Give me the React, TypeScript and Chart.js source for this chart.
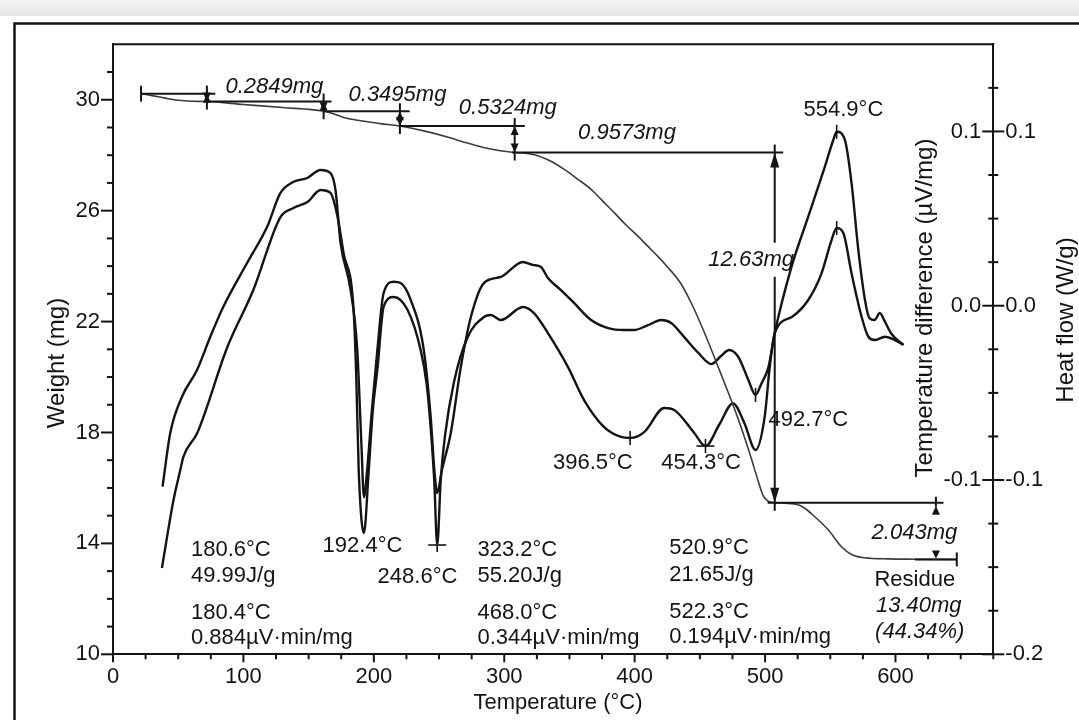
import React, { useEffect, useRef } from 'react';
import { Chart, registerables } from 'chart.js';

Chart.register(...registerables);

const FONT_FAMILY = '"Liberation Sans", Arial, Helvetica, sans-serif';
const INK = '#141414';

// ---------------- data ----------------
// TG curve: temperature (°C) / weight (mg)
const tgTemp = [21.5, 30, 40, 50, 60, 72, 100, 130, 161.5, 170, 177.6, 190, 205, 220, 240, 257, 270, 284, 297, 308, 323, 335, 346, 356, 366.6, 375, 384.5, 393, 402.5, 410, 417.8, 425, 435, 443.4, 453.6, 463.9, 471.6, 479.3, 484.4, 489.5, 494.7, 498.5, 502.3, 507.4, 515, 525.3, 531, 537.9, 548.4, 558.6, 566.3, 576.3, 595, 614.7, 647];
const tgWeight = [30.22, 30.15, 30.06, 29.98, 29.945, 29.935, 29.83, 29.72, 29.585, 29.48, 29.35, 29.24, 29.14, 29.053, 28.86, 28.65, 28.46, 28.28, 28.16, 28.1, 28.02, 27.8, 27.49, 27.15, 26.77, 26.37, 25.92, 25.5, 25.08, 24.72, 24.35, 23.98, 23.4, 22.67, 21.59, 20.38, 19.46, 18.5, 17.8, 17.05, 16.25, 15.72, 15.52, 15.47, 15.45, 15.39, 15.25, 14.97, 14.49, 13.88, 13.6, 13.48, 13.44, 13.43, 13.42];

// Heat flow curve (W/g)
const hfTemp = [38, 43.9, 52.9, 64.4, 74.6, 84.6, 102.8, 118.2, 128.4, 138.4, 148.9, 159.1, 166.8, 170.6, 174.5, 182.2, 187.3, 190.5, 192.4, 194.8, 198.5, 202.7, 207.5, 215.2, 220.6, 228.3, 238.3, 243.6, 246.5, 248.6, 252, 259, 266.7, 274.4, 284.4, 297.4, 314.3, 322, 328.2, 333.5, 343.5, 353.5, 366.6, 379.6, 391.9, 399.6, 410.4, 420.4, 428, 438, 448.8, 458.8, 466, 472.5, 479.5, 487.2, 492.7, 497, 502.6, 507.4, 520.3, 533.1, 545.8, 552.3, 554.9, 561.2, 566.3, 571.5, 576.6, 580, 584, 588, 592, 597, 606.1];
const hfValue = [-0.1038, -0.073, -0.0522, -0.0369, -0.0178, -0.0006, 0.0245, 0.0453, 0.0647, 0.0711, 0.0733, 0.0779, 0.0761, 0.0664, 0.036, 0.009, -0.0254, -0.08, -0.1098, -0.095, -0.06, -0.0254, 0.0073, 0.0138, 0.013, 0.0033, -0.0254, -0.0639, -0.095, -0.1075, -0.095, -0.073, -0.0352, -0.0065, 0.013, 0.0165, 0.0251, 0.0234, 0.0222, 0.0159, 0.009, 0.0016, -0.0082, -0.0128, -0.0139, -0.0139, -0.0111, -0.0082, -0.0099, -0.018, -0.0271, -0.0335, -0.029, -0.0254, -0.0294, -0.0426, -0.0512, -0.045, -0.0352, -0.0157, 0.0224, 0.0511, 0.0797, 0.0951, 0.0998, 0.0951, 0.0704, 0.032, 0.0033, -0.0071, -0.0082, -0.0042, -0.0093, -0.0162, -0.0225];

// Temperature difference curve (µV/mg)
const tdTemp = [37.5, 46.4, 51.6, 53.9, 64.6, 87.7, 107.6, 128.4, 138.4, 149.1, 159.1, 166.8, 172.2, 176.8, 184.5, 186.5, 188.4, 192.4, 196.1, 199, 202.9, 207.5, 215.2, 225.9, 235.9, 240.5, 243.6, 246.3, 248.6, 251.3, 254.5, 261.3, 272, 284.4, 289.7, 297.4, 314.3, 322.8, 333.5, 348.9, 361.2, 376.6, 389.6, 396.5, 407.3, 422.7, 430.3, 445.7, 454.3, 465, 475.4, 484.1, 492.7, 499.7, 503.6, 507.4, 520.8, 533.1, 543.3, 551, 554.9, 560, 566.3, 574, 579.2, 584.3, 591.9, 599.6, 606.1];
const tdValue = [-0.1505, -0.1115, -0.0943, -0.0868, -0.073, -0.0237, 0.009, 0.0509, 0.0561, 0.0595, 0.0664, 0.0647, 0.0509, 0.0302, -0.0025, -0.04, -0.0943, -0.1304, -0.0943, -0.062, -0.0352, -0.0007, 0.005, -0.0025, -0.0254, -0.045, -0.07, -0.1, -0.1373, -0.1, -0.075, -0.0443, -0.018, -0.0065, -0.0053, -0.0082, -0.0007, -0.0042, -0.0157, -0.0352, -0.0541, -0.0696, -0.0753, -0.0759, -0.0725, -0.0587, -0.0598, -0.073, -0.0805, -0.068, -0.056, -0.0673, -0.0828, -0.0637, -0.035, -0.0157, -0.0063, 0.0033, 0.0186, 0.0377, 0.0446, 0.0417, 0.0186, -0.0063, -0.0178, -0.0197, -0.0178, -0.0197, -0.0225];

// axis tick labels
const tempMajorTicks = [0, 100, 200, 300, 400, 500, 600];
const weightMajorTicks = [10, 14, 18, 22, 26, 30];
const heatMajorTicks = [-0.2, -0.1, 0.0, 0.1];
const diffMajorTicks = [-0.1, 0.0, 0.1];

// weight-loss steps (mg levels) and their reference lines (°C)
const stepLevels = [30.22, 29.935, 29.585, 29.053, 28.096, 15.466, 13.423];
const stepLineStart = [21.5, 72, 161.5, 220, 306, 502, 615];
const stepLineEnd = [78.4, 167.6, 227.5, 315.8, 513.9, 636.8, 647];
const stepMarkerTemp = [72, 161.5, 220, 308, 507.4, 631];

// labelled peaks on the thermal curves
const peakMarkTemp = [248.6, 396.5, 454.3, 492.7, 554.9, 554.9];
const peakMarkValue = [-0.1373, -0.0759, -0.0805, -0.0512, 0.0998, 0.0446];
const peakMarkAxis = ['yTD', 'yTD', 'yTD', 'yHF', 'yHF', 'yTD'];
const peakMarkCross = [true, false, true, false, false, false];

// text annotations: positioned with temperature (°C) and weight-axis (mg) values
const textLabels = [
  { text: '0.2849mg', t: 86.2, w: 30.46, italic: true },
  { text: '0.3495mg', t: 180.6, w: 30.17, italic: true },
  { text: '0.5324mg', t: 265.2, w: 29.69, italic: true },
  { text: '0.9573mg', t: 356.6, w: 28.82, italic: true },
  { text: '12.63mg', t: 456.5, w: 24.23, italic: true },
  { text: '2.043mg', t: 581.7, w: 14.38, italic: true },
  { text: '554.9°C', t: 529.5, w: 29.65 },
  { text: '396.5°C', t: 337.4, w: 16.91 },
  { text: '454.3°C', t: 420.4, w: 16.91 },
  { text: '492.7°C', t: 502.6, w: 18.46 },
  { text: '192.4°C', t: 160.7, w: 13.91 },
  { text: '248.6°C', t: 202.9, w: 12.79 },
  { text: '180.6°C', t: 59.8, w: 13.77 },
  { text: '49.99J/g', t: 59.8, w: 12.83 },
  { text: '180.4°C', t: 59.8, w: 11.5 },
  { text: '0.884µV·min/mg', t: 59.8, w: 10.59 },
  { text: '323.2°C', t: 279.5, w: 13.77 },
  { text: '55.20J/g', t: 279.5, w: 12.83 },
  { text: '468.0°C', t: 279.5, w: 11.5 },
  { text: '0.344µV·min/mg', t: 279.5, w: 10.59 },
  { text: '520.9°C', t: 426.5, w: 13.84 },
  { text: '21.65J/g', t: 426.5, w: 12.86 },
  { text: '522.3°C', t: 426.5, w: 11.53 },
  { text: '0.194µV·min/mg', t: 426.5, w: 10.62 },
  { text: 'Residue', t: 614.8, w: 12.68, align: 'center' },
  { text: '13.40mg', t: 617.8, w: 11.74, italic: true, align: 'center' },
  { text: '(44.34%)', t: 618.6, w: 10.81, italic: true, align: 'center' },
];

// ---------------- helpers ----------------
function seg(ctx: CanvasRenderingContext2D, x1: number, y1: number, x2: number, y2: number) {
  ctx.beginPath();
  ctx.moveTo(x1, y1);
  ctx.lineTo(x2, y2);
  ctx.stroke();
}
// dir = -1: arrow pointing up (tip above base); dir = 1: pointing down
function tri(ctx: CanvasRenderingContext2D, x: number, tipY: number, dir: number, w: number, h: number) {
  ctx.beginPath();
  ctx.moveTo(x, tipY);
  ctx.lineTo(x - w / 2, tipY - dir * h);
  ctx.lineTo(x + w / 2, tipY - dir * h);
  ctx.closePath();
  ctx.fill();
}
const font = (size: number, italic = false) => `${italic ? 'italic ' : ''}${size}px ${FONT_FAMILY}`;
const isMajor = (v: number, list: number[]) => list.some((m) => Math.abs(m - v) < 1e-6);
const fmt1 = (v: number) => (Math.abs(v) < 1e-9 ? '0.0' : v.toFixed(1));

const backgroundPlugin = {
  id: 'pageBackground',
  beforeDraw(chart: any) {
    const { ctx, width, height } = chart;
    ctx.save();
    ctx.fillStyle = '#ffffff';
    ctx.fillRect(0, 0, width, height);
    const g = ctx.createLinearGradient(0, 0, 0, 16);
    g.addColorStop(0, '#f5f5f5');
    g.addColorStop(1, '#e3e3e3');
    ctx.fillStyle = g;
    ctx.fillRect(0, 0, width, 16);
    ctx.strokeStyle = INK;
    ctx.lineWidth = 2.5;
    ctx.beginPath();
    ctx.moveTo(14.5, height + 5);
    ctx.lineTo(14.5, 23.5);
    ctx.lineTo(width + 5, 23.5);
    ctx.stroke();
    ctx.restore();
  },
};

const annotationPlugin = {
  id: 'thermalAnnotations',
  afterDraw(chart: any) {
    const { ctx, chartArea: ca } = chart;
    const x = chart.scales.x;
    const yW = chart.scales.yW;
    const yHF = chart.scales.yHF;
    const yTD = chart.scales.yTD;
    ctx.save();
    ctx.strokeStyle = INK;
    ctx.fillStyle = INK;
    ctx.lineWidth = 2;

    // top frame of the plot
    seg(ctx, ca.left - 1, ca.top, ca.right + 1, ca.top);

    // tick marks
    for (const t of x.ticks) {
      const px = x.getPixelForValue(t.value);
      const len = isMajor(t.value, tempMajorTicks) ? 8 : 5;
      seg(ctx, px, ca.bottom, px, ca.bottom + len);
    }
    for (const t of yW.ticks) {
      if (t.value >= 31.99) continue;
      const py = yW.getPixelForValue(t.value);
      const len = isMajor(t.value, weightMajorTicks) ? 12 : 6;
      seg(ctx, ca.left - len, py, ca.left, py);
    }
    for (const t of yHF.ticks) {
      if (t.value > 0.14) continue;
      const py = yHF.getPixelForValue(t.value);
      const len = isMajor(t.value, heatMajorTicks) ? 11 : 5;
      seg(ctx, ca.right - len, py, ca.right + len, py);
    }

    // inner tick labels (temperature difference axis)
    ctx.font = font(22);
    ctx.textAlign = 'right';
    ctx.textBaseline = 'middle';
    for (const v of diffMajorTicks) {
      ctx.fillText(fmt1(v), ca.right - 12, yTD.getPixelForValue(v));
    }

    // weight-loss step lines
    ctx.lineWidth = 2;
    const lv = stepLevels.map((w) => yW.getPixelForValue(w));
    stepLevels.forEach((_, i) => {
      seg(ctx, x.getPixelForValue(stepLineStart[i]), lv[i], x.getPixelForValue(stepLineEnd[i]), lv[i]);
    });
    // end caps
    const sx0 = x.getPixelForValue(stepLineStart[0]);
    seg(ctx, sx0, lv[0] - 8, sx0, lv[0] + 8);
    const sxe = x.getPixelForValue(stepLineEnd[6]);
    seg(ctx, sxe, lv[6] - 7, sxe, lv[6] + 7);

    // small step markers
    for (let k = 0; k < 4; k++) {
      const px = x.getPixelForValue(stepMarkerTemp[k]);
      seg(ctx, px, lv[k] - 8, px, lv[k + 1] + 8);
      tri(ctx, px, lv[k], -1, 8, 9);
      tri(ctx, px, lv[k + 1], 1, 8, 9);
    }
    // 12.63 mg arrow
    {
      const px = x.getPixelForValue(stepMarkerTemp[4]);
      const ty = yW.getPixelForValue(24.23);
      seg(ctx, px, lv[4] - 8, px, ty - 17);
      seg(ctx, px, ty + 17, px, lv[5] + 8);
      tri(ctx, px, lv[4], -1, 9, 15);
      tri(ctx, px, lv[5], 1, 9, 15);
    }
    // 2.043 mg marker
    {
      const px = x.getPixelForValue(stepMarkerTemp[5]);
      seg(ctx, px, lv[5] - 6, px, lv[5] + 4);
      tri(ctx, px, lv[5] + 3, -1, 8, 9);
      tri(ctx, px, lv[6] - 1, 1, 8, 8);
    }

    // peak marks
    ctx.lineWidth = 1.6;
    peakMarkTemp.forEach((t, i) => {
      const sc = peakMarkAxis[i] === 'yHF' ? yHF : yTD;
      const px = x.getPixelForValue(t);
      const py = sc.getPixelForValue(peakMarkValue[i]);
      seg(ctx, px, py - 7, px, py + 7);
      if (peakMarkCross[i]) seg(ctx, px - 9, py, px + 9, py);
    });

    // text annotations
    ctx.textBaseline = 'middle';
    for (const l of textLabels) {
      ctx.font = font(22, !!l.italic);
      ctx.textAlign = (l.align as CanvasTextAlign) || 'left';
      ctx.fillText(l.text, x.getPixelForValue(l.t), yW.getPixelForValue(l.w));
    }

    // axis titles
    ctx.font = font(22);
    ctx.textAlign = 'center';
    ctx.fillText('Temperature (°C)', 558, 703);
    const vtitle = (text: string, cx: number, cy: number) => {
      ctx.save();
      ctx.translate(cx, cy);
      ctx.rotate(-Math.PI / 2);
      ctx.fillText(text, 0, 0);
      ctx.restore();
    };
    ctx.font = font(24);
    vtitle('Weight (mg)', 57, 363);
    vtitle('Temperature difference (µV/mg)', 925, 308);
    vtitle('Heat flow (W/g)', 1066, 320);
    ctx.restore();
  },
};

const tickFont = { family: FONT_FAMILY, size: 22 };

export default function App() {
  const ref = useRef<HTMLCanvasElement | null>(null);

  useEffect(() => {
    if (!ref.current) return;
    const lineStyle = {
      pointRadius: 0,
      fill: false,
      cubicInterpolationMode: 'monotone' as const,
    };
    const chart = new Chart(ref.current, {
      type: 'line',
      data: {
        datasets: [
          {
            label: 'TG',
            data: tgTemp.map((t, i) => ({ x: t, y: tgWeight[i] })),
            yAxisID: 'yW',
            borderColor: '#3c3c3c',
            borderWidth: 1.6,
            ...lineStyle,
          },
          {
            label: 'Heat flow',
            data: hfTemp.map((t, i) => ({ x: t, y: hfValue[i] })),
            yAxisID: 'yHF',
            borderColor: INK,
            borderWidth: 2.4,
            ...lineStyle,
          },
          {
            label: 'Temperature difference',
            data: tdTemp.map((t, i) => ({ x: t, y: tdValue[i] })),
            yAxisID: 'yTD',
            borderColor: INK,
            borderWidth: 2.4,
            ...lineStyle,
          },
        ],
      },
      options: {
        responsive: false,
        animation: false,
        devicePixelRatio: 1,
        layout: { padding: { left: 0, right: 0, top: 44.3, bottom: 0 } },
        plugins: { legend: { display: false }, tooltip: { enabled: false } },
        scales: {
          x: {
            type: 'linear',
            position: 'bottom',
            min: 0,
            max: 675,
            afterFit: (s: any) => { s.height = 65.7; },
            grid: { display: false, drawTicks: false },
            border: { display: true, color: INK, width: 2 },
            ticks: {
              stepSize: 25,
              maxTicksLimit: 100,
              autoSkip: false,
              maxRotation: 0,
              padding: 9,
              font: tickFont,
              color: INK,
              callback: (v: any) => (isMajor(Number(v), tempMajorTicks) ? String(v) : ''),
            },
          },
          yW: {
            type: 'linear',
            position: 'left',
            min: 10,
            max: 32,
            afterFit: (s: any) => { s.width = 113; },
            grid: { display: false, drawTicks: false },
            border: { display: true, color: INK, width: 2 },
            ticks: {
              stepSize: 1,
              maxTicksLimit: 100,
              autoSkip: false,
              padding: 13,
              font: tickFont,
              color: INK,
              callback: (v: any) => (isMajor(Number(v), weightMajorTicks) ? String(v) : ''),
            },
          },
          yHF: {
            type: 'linear',
            position: 'right',
            min: -0.2,
            max: 0.15,
            afterFit: (s: any) => { s.width = 85.7; },
            grid: { display: false, drawTicks: false },
            border: { display: true, color: INK, width: 2 },
            ticks: {
              stepSize: 0.025,
              maxTicksLimit: 100,
              autoSkip: false,
              padding: 12,
              font: tickFont,
              color: INK,
              callback: (v: any) => (isMajor(Number(v), heatMajorTicks) ? fmt1(Number(v)) : ''),
            },
          },
          yTD: {
            type: 'linear',
            position: 'right',
            display: false,
            min: -0.2,
            max: 0.15,
          },
        },
      },
      plugins: [backgroundPlugin, annotationPlugin],
    } as any);
    return () => chart.destroy();
  }, []);

  return (
    <div style={{ position: 'absolute', left: 0, top: 0, width: 1079, height: 720, background: '#fff' }}>
      <canvas ref={ref} width={1079} height={720} style={{ display: 'block', width: 1079, height: 720 }} />
    </div>
  );
}
